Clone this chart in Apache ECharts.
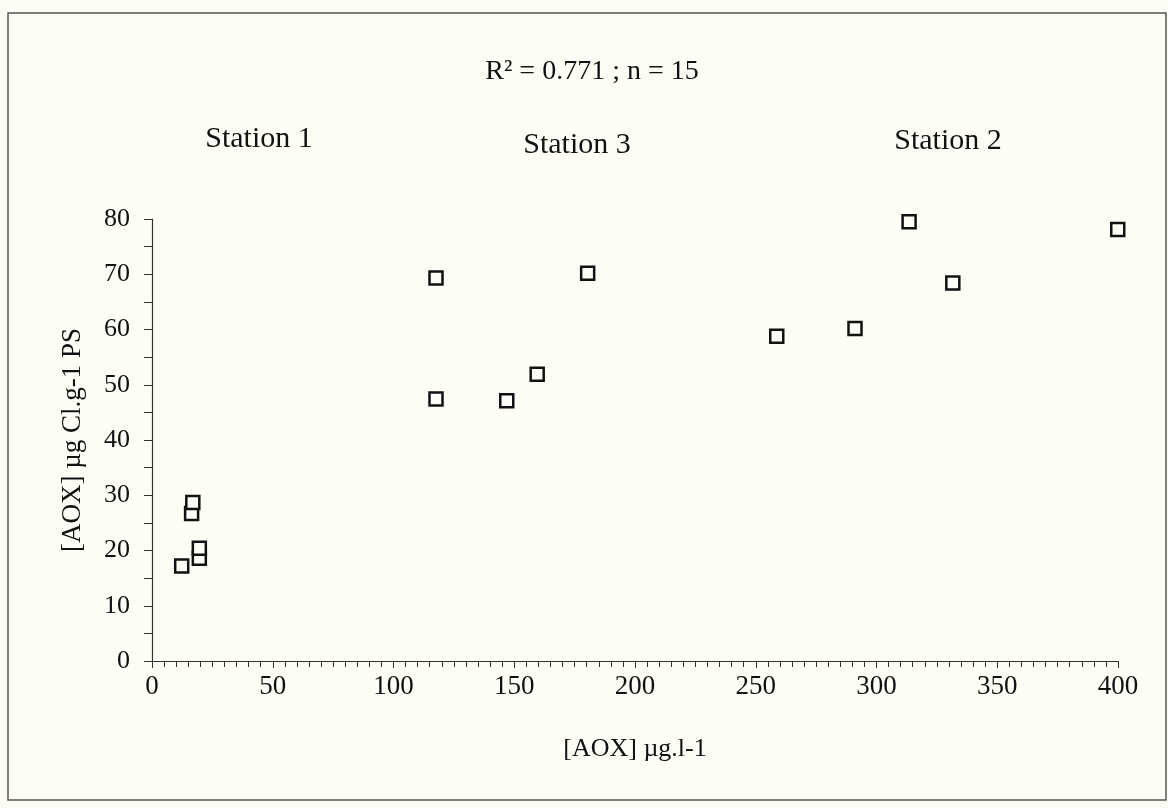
<!DOCTYPE html>
<html>
<head>
<meta charset="utf-8">
<script src="https://cdn.jsdelivr.net/npm/echarts@6/dist/echarts.min.js"></script>
<style>
html,body{margin:0;padding:0;background:#fdfdf6;}
#chart{width:1168px;height:808px;}
</style>
</head>
<body>
<div id="chart"></div>
<script>
// Data
const station1 = [[12.3, 17.2], [19.6, 18.6], [19.6, 20.4], [16.4, 26.7], [16.9, 28.7]];
const station3 = [[117.6, 69.3], [117.6, 47.4], [146.9, 47.1], [159.5, 51.9], [180.4, 70.2]];
const station2 = [[258.7, 58.8], [291.1, 60.2], [313.5, 79.5], [331.6, 68.4], [399.9, 78.1]];
const stationLabels = ['Station 1', 'Station 3', 'Station 2'];
const statText = 'R² = 0.771 ; n = 15';
const xName = '[AOX] µg.l-1';
const yName = '[AOX] µg Cl.g-1 PS';

const allPoints = station1.concat(station3, station2);
const font = '"Liberation Serif", "DejaVu Serif", serif';
const bg = '#fdfdf6';

function label(text, x, y, size) {
  return {
    type: 'text', x: x, y: y, z: 10,
    style: { text: text, font: size + 'px ' + font, fill: '#111', align: 'center', verticalAlign: 'middle' }
  };
}

const chart = echarts.init(document.getElementById('chart'));
chart.setOption({
  backgroundColor: bg,
  animation: false,
  textStyle: { fontFamily: font, color: '#111' },
  graphic: [
    { type: 'rect', shape: { x: 8, y: 13, width: 1158, height: 787 },
      style: { fill: 'none', stroke: '#555', lineWidth: 1.5 }, z: 0 },
    label(statText, 592, 72, 28),
    label(stationLabels[0], 259, 139, 30),
    label(stationLabels[1], 577, 145, 30),
    label(stationLabels[2], 948, 141, 30)
  ],
  grid: { left: 152, right: 50, top: 219, bottom: 147, containLabel: false },
  xAxis: {
    type: 'value', min: 0, max: 400, interval: 50,
    name: xName, nameLocation: 'middle', nameGap: 75,
    nameTextStyle: { fontFamily: font, fontSize: 26, color: '#111' },
    axisLine: { show: true, lineStyle: { color: '#333', width: 1.2 } },
    axisTick: { show: true, length: 7, lineStyle: { color: '#333' } },
    minorTick: { show: true, splitNumber: 10, length: 6, lineStyle: { color: '#333' } },
    axisLabel: { fontFamily: font, fontSize: 27, color: '#111', margin: 12 },
    splitLine: { show: false }
  },
  yAxis: {
    type: 'value', min: 0, max: 80, interval: 10,
    name: yName, nameLocation: 'middle', nameGap: 66, nameRotate: 90,
    nameTextStyle: { fontFamily: font, fontSize: 27, color: '#111' },
    axisLine: { show: true, lineStyle: { color: '#333', width: 1.2 } },
    axisTick: { show: true, length: 8, lineStyle: { color: '#333' } },
    minorTick: { show: true, splitNumber: 2, length: 8, lineStyle: { color: '#333' } },
    axisLabel: { fontFamily: font, fontSize: 26, color: '#111', margin: 22 },
    splitLine: { show: false }
  },
  series: [{
    type: 'scatter',
    data: allPoints,
    symbol: 'rect',
    symbolSize: 13,
    itemStyle: { color: bg, borderColor: '#111', borderWidth: 2.5, opacity: 1 }
  }]
});
</script>
</body>
</html>
